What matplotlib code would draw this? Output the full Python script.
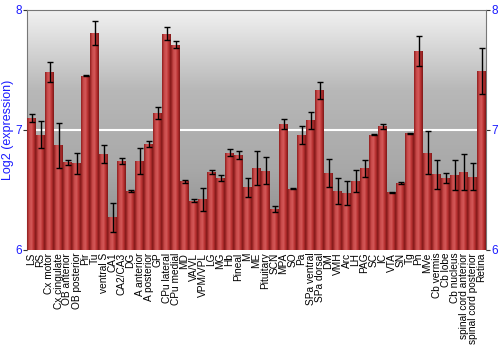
import numpy as np
import matplotlib
matplotlib.use("Agg")
import matplotlib.pyplot as plt
from matplotlib.colors import LinearSegmentedColormap

plt.rcParams['font.family'] = ['Liberation Sans', 'DejaVu Sans']

regions = ["LS", "RS", "Cx motor", "Cx cingulate", "OB anterior", "OB posterior",
           "Pir", "Tu", "ventral S", "CA1", "CA2/CA3", "DG", "A anterior",
           "A posterior", "GP", "CPu lateral", "CPu medial", "MD", "VA/VL",
           "VPM/VPL", "LG", "MG", "Hb", "Pineal", "M", "ME", "Pituitary", "SCN",
           "MPA", "SO", "Pa", "SPa ventral", "SPa dorsal", "DM", "VMH", "Arc",
           "LH", "PAG", "SC", "IC", "VTA", "SN", "Tg", "Pn", "MVe", "Cb vermis",
           "Cb lobe", "Cb nucleus", "spinal cord anterior", "spinal cord posterior",
           "Retina"]
expr = [7.10, 6.96, 7.48, 6.87, 6.73, 6.72, 7.45, 7.81, 6.80, 6.27, 6.74, 6.49,
        6.74, 6.88, 7.14, 7.80, 7.71, 6.57, 6.41, 6.42, 6.65, 6.60, 6.81, 6.79,
        6.52, 6.68, 6.66, 6.34, 7.05, 6.51, 6.96, 7.08, 7.33, 6.64, 6.49, 6.47,
        6.575, 6.68, 6.96, 7.03, 6.48, 6.56, 6.97, 7.66, 6.81, 6.63, 6.60, 6.625,
        6.65, 6.61, 7.49]
err = [0.036, 0.11, 0.083, 0.19, 0.022, 0.086, 0.005, 0.10, 0.075, 0.12, 0.022,
       0.01, 0.105, 0.025, 0.05, 0.055, 0.028, 0.014, 0.01, 0.096, 0.014, 0.028,
       0.028, 0.036, 0.083, 0.14, 0.11, 0.025, 0.039, 0.005, 0.076, 0.07, 0.07,
       0.12, 0.108, 0.10, 0.094, 0.07, 0.005, 0.022, 0.004, 0.008, 0.004, 0.125,
       0.18, 0.12, 0.044, 0.128, 0.147, 0.114, 0.19]
yticks = [6, 7, 8]

blue = '#1a1aff'
fig = plt.figure(figsize=(5, 3.5), dpi=100)
ax = fig.add_axes([0.054, 0.286, 0.918, 0.686])

x = np.arange(len(regions))
n = len(regions)

# grey background gradient, light at top
bg = np.linspace(0, 1, 256).reshape(-1, 1)
bgmap = LinearSegmentedColormap.from_list('bg', ['#f2f2f2', '#b8b8b8', '#a8a8a8', '#878787'])
ax.imshow(bg, cmap=bgmap, aspect='auto', extent=(-0.5, n - 0.5, 6, 8),
          zorder=0, origin='upper')
ax.axhline(7, color='white', lw=1.5, zorder=1)

# bars with horizontal shading
barmap = LinearSegmentedColormap.from_list('bar', ['#8e1e1e', '#c84848', '#d45a5a', '#b83030', '#7e1818'])
grad = np.linspace(0, 1, 64).reshape(1, -1)
bars = ax.bar(x, np.array(expr) - 6, bottom=6, width=0.9, color='#b83030',
              linewidth=0, zorder=2)
for b in bars:
    im = ax.imshow(grad, cmap=barmap, aspect='auto', zorder=3,
                   extent=(b.get_x(), b.get_x() + b.get_width(), 6, b.get_y() + b.get_height()))
    im.set_clip_path(b)
ax.errorbar(x, expr, yerr=err, fmt='none', ecolor='black', elinewidth=1,
            capsize=2, capthick=1, zorder=4)

ax.set_xlim(-0.5, n - 0.5)
ax.set_ylim(6, 8)
ax.set_xticks(x)
ax.set_xticklabels(regions, rotation=90, fontsize=7.3)
ax.tick_params(axis='x', length=0, pad=2)
ax.set_yticks(yticks)
ax.set_yticklabels([str(t) for t in yticks])
ax.tick_params(axis='y', colors='#333333', labelcolor=blue, labelsize=8.5,
               length=3, pad=0.8, right=True, labelright=True)
ax.set_ylabel('Log2 (expression)', color=blue, fontsize=9)
ax.yaxis.set_label_coords(-0.029, 0.5)
for s in ax.spines.values():
    s.set_color('#777777')
ax.spines['bottom'].set_visible(False)

fig.savefig('out.png', dpi=100)
